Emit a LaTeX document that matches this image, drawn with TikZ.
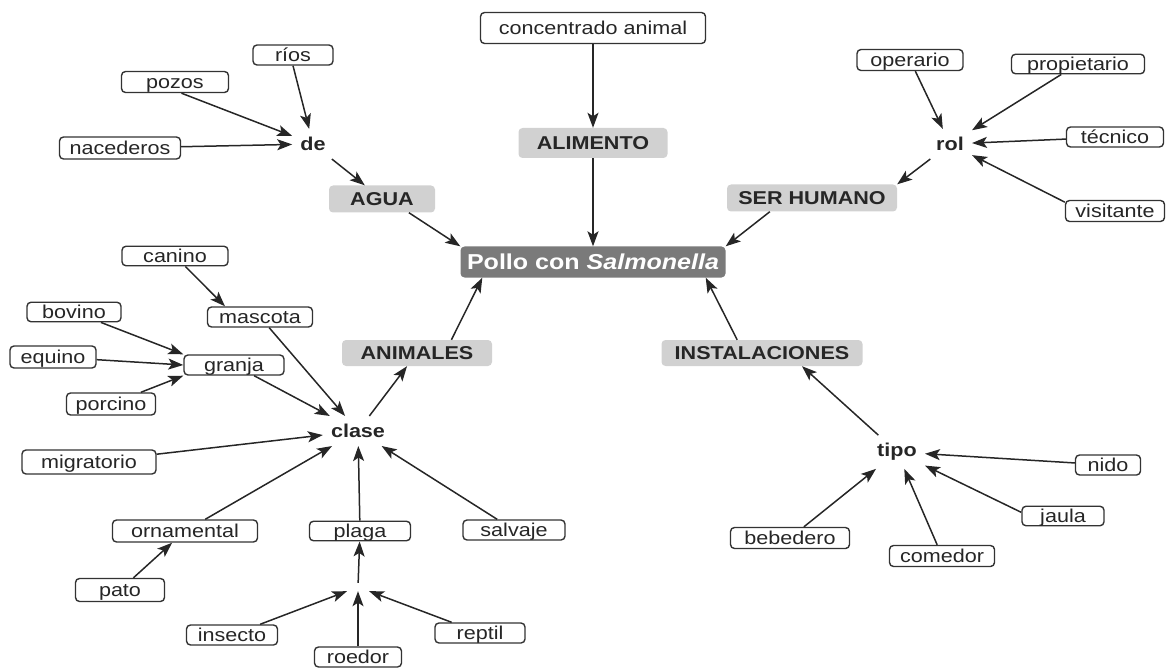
\documentclass[tikz,border=0pt]{standalone}
\usepackage{fontspec}
\setmainfont{Liberation Sans}[FakeStretch=1.16]
\usepackage{tikz}
\usetikzlibrary{arrows.meta}

\begin{document}
\begin{tikzpicture}[
			x=1pt, y=-1pt,
			caja/.style={draw=black!80, line width=1.4pt, rounded corners=4pt, fill=white, text=black!85, inner xsep=4pt, inner ysep=1pt, text height=15pt, text depth=2.5pt, font=\fontsize{18.6}{22}\selectfont},
			concepto/.style={fill=black!18, rounded corners=4pt, text=black!85, inner xsep=4pt, inner ysep=1pt, text height=14pt, text depth=1pt, font=\fontsize{18.6}{22}\selectfont\bfseries},
			raiz/.style={concepto, fill=black!52, text=white, text height=16pt, text depth=1.5pt, font=\fontsize{21.6}{24}\selectfont\bfseries},
			enlace/.style={inner sep=8pt, text=black!85, font=\fontsize{18.6}{22}\selectfont\bfseries},
			vacio/.style={inner sep=0pt, minimum width=26pt, minimum height=8pt},
			flecha/.style={-{Stealth[length=15pt,width=11pt,inset=3.5pt]}, line width=1.5pt, draw=black!85}
			]
	\useasboundingbox (0,0) rectangle (1166,668);
	
	%% CENTRO
	\node[raiz, minimum width=265pt, minimum height=31pt] (pollo) at (593,262) {Pollo con \textit{Salmonella}};
	
	%% ALIMENTO
	\node[caja, minimum width=225pt, minimum height=31pt] (concentrado) at (593,28) {concentrado animal};
	\node[concepto, minimum width=149pt, minimum height=30pt] (alimento) at (593,143) {ALIMENTO};
	
	%% AGUA
	\node[concepto, minimum width=106pt, minimum height=27pt] (agua) at (382,199) {AGUA};
	\node[enlace] (de) at (313,144) {de};
	\node[caja, minimum width=80pt, minimum height=20pt] (rios) at (293,55) {ríos};
	\node[caja, minimum width=107pt, minimum height=21pt] (pozos) at (175,82) {pozos};
	\node[caja, minimum width=121pt, minimum height=22pt] (nacederos) at (120,148) {nacederos};
	
	%% SER HUMANO
	\node[concepto, minimum width=170pt, minimum height=27pt] (humano) at (812,198) {SER HUMANO};
	\node[enlace] (rol) at (950,144) {rol};
	\node[caja, minimum width=106pt, minimum height=21pt] (operario) at (910,60) {operario};
	\node[caja, minimum width=133pt, minimum height=19pt] (propietario) at (1078,64) {propietario};
	\node[caja, minimum width=97pt, minimum height=20pt] (tecnico) at (1115,137) {técnico};
	\node[caja, minimum width=99pt, minimum height=21pt] (visitante) at (1115,211) {visitante};
	
	%% ANIMALES
	\node[concepto, minimum width=150pt, minimum height=26pt] (animales) at (417,353) {ANIMALES};
	\node[enlace] (clase) at (358,431) {clase};
	\node[caja, minimum width=106pt, minimum height=19pt] (canino) at (175,256) {canino};
	\node[caja, minimum width=105pt, minimum height=20pt] (mascota) at (260,317) {mascota};
	\node[caja, minimum width=94pt, minimum height=19pt] (bovino) at (74,312) {bovino};
	\node[caja, minimum width=86pt, minimum height=22pt] (equino) at (53,357) {equino};
	\node[caja, minimum width=100pt, minimum height=20pt] (granja) at (234,365) {granja};
	\node[caja, minimum width=89pt, minimum height=22pt] (porcino) at (111,404) {porcino};
	\node[caja, minimum width=134pt, minimum height=24pt] (migratorio) at (89,462) {migratorio};
	\node[caja, minimum width=145pt, minimum height=22pt] (ornamental) at (185,531) {ornamental};
	\node[caja, minimum width=89pt, minimum height=23pt] (pato) at (120,590) {pato};
	\node[caja, minimum width=101pt, minimum height=19pt] (plaga) at (360,531) {plaga};
	\node[caja, minimum width=102pt, minimum height=20pt] (salvaje) at (514,530) {salvaje};
	% enlace sin texto bajo plaga
	\node[vacio] (plagaenlace) at (358,587) {};
	\node[caja, minimum width=91pt, minimum height=20pt] (insecto) at (232,635) {insecto};
	\node[caja, minimum width=87pt, minimum height=20pt] (roedor) at (358,657) {roedor};
	\node[caja, minimum width=90pt, minimum height=20pt] (reptil) at (480,633) {reptil};
	
	%% INSTALACIONES
	\node[concepto, minimum width=201pt, minimum height=26pt] (instalaciones) at (762,353) {INSTALACIONES};
	\node[enlace] (tipo) at (897,452) {tipo};
	\node[caja, minimum width=65pt, minimum height=20pt] (nido) at (1108,465) {nido};
	\node[caja, minimum width=82pt, minimum height=19pt] (jaula) at (1063,516) {jaula};
	\node[caja, minimum width=105pt, minimum height=21pt] (comedor) at (942,556) {comedor};
	\node[caja, minimum width=119pt, minimum height=21pt] (bebedero) at (790,538) {bebedero};
	
	%% Conexiones
	\draw[flecha] (concentrado) -- (alimento);
	\draw[flecha] (alimento) -- (pollo);
	
	\draw[flecha] (rios.south) -- (de);
	\draw[flecha] (pozos.-60) -- (de);
	\draw[flecha] (nacederos) -- (de);
	\draw[flecha] (de) -- (agua);
	\draw[flecha] (agua.-27) -- (pollo.north west);
	
	\draw[flecha] (operario) -- (rol);
	\draw[flecha] (propietario) -- (rol);
	\draw[flecha] (tecnico) -- (rol);
	\draw[flecha] (visitante.170) -- (rol);
	\draw[flecha] (rol) -- (humano.north east);
	\draw[flecha] (humano.198) -- (pollo.north east);
	
	\draw[flecha] (canino) -- (mascota.163);
	\draw[flecha] (bovino) -- (granja.north west);
	\draw[flecha] (equino) -- (granja.west);
	\draw[flecha] (porcino) -- (granja.south west);
	\draw[flecha] (mascota) -- (clase);
	\draw[flecha] (granja) -- (clase);
	\draw[flecha] (migratorio) -- (clase);
	\draw[flecha] (ornamental) -- (clase);
	\draw[flecha] (pato) -- (ornamental);
	\draw[flecha] (plaga) -- (clase);
	\draw[flecha] (salvaje) -- (clase);
	\draw[flecha] (plagaenlace) -- (plaga);
	\draw[flecha] (insecto) -- (plagaenlace);
	\draw[flecha] (roedor) -- (plagaenlace);
	\draw[flecha] (reptil) -- (plagaenlace);
	\draw[flecha] (clase) -- (animales);
	\draw[flecha] (animales.21) -- ([xshift=22pt]pollo.south west);
	
	\draw[flecha] (nido) -- (tipo);
	\draw[flecha] (jaula.175) -- (tipo);
	\draw[flecha] (comedor) -- (tipo);
	\draw[flecha] (bebedero) -- (tipo);
	\draw[flecha] (tipo) -- ([xshift=40pt]instalaciones.south);
	\draw[flecha] (instalaciones.152) -- ([xshift=-20pt]pollo.south east);
	
\end{tikzpicture}
\end{document}
